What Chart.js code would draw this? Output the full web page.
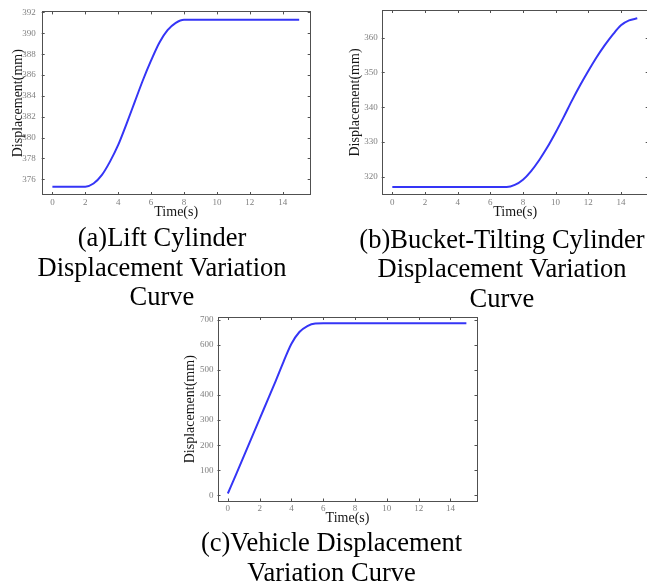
<!DOCTYPE html>
<html>
<head>
<meta charset="utf-8">
<script src="https://cdn.jsdelivr.net/npm/chart.js@4.4.1/dist/chart.umd.min.js"></script>
<style>
    html, body {
        margin: 0;
        padding: 0;
        width: 647px;
        height: 581px;
        overflow: hidden;
        background: #ffffff;
    }
    .plot {
        position: absolute;
    }
    .caption {
        position: absolute;
        transform: translateX(-50%);
        white-space: nowrap;
        text-align: center;
        font-family: "Liberation Serif", "Times New Roman", serif;
        font-size: 26.5px;
        line-height: 29.5px;
        color: #000;
        z-index: 2;
    }
</style>
</head>
<body>

<canvas id="chartLift" class="plot" width="322" height="225" style="left:0px;top:0px;"></canvas>
<canvas id="chartTilt" class="plot" width="320" height="225" style="left:335px;top:0px;"></canvas>
<canvas id="chartVehicle" class="plot" width="310" height="230" style="left:175px;top:300px;"></canvas>

<div class="caption" style="left:162px;top:223px;">(a)Lift Cylinder<br>Displacement Variation<br>Curve</div>
<div class="caption" style="left:502px;top:224.5px;">(b)Bucket-Tilting Cylinder<br>Displacement Variation<br>Curve</div>
<div class="caption" style="left:331.5px;top:528px;">(c)Vehicle Displacement<br>Variation Curve</div>

<script>
// --- data (time step 0.5 s) ---
const timeS = [0, 0.5, 1, 1.5, 2, 2.5, 3, 3.5, 4, 4.5, 5, 5.5, 6, 6.5, 7, 7.5,
    8, 8.5, 9, 9.5, 10, 10.5, 11, 11.5, 12, 12.5, 13, 13.5, 14, 14.5, 15];

const liftDisp = [375.3, 375.3, 375.3, 375.3, 375.3, 375.6, 376.4, 377.7, 379.3, 381.3,
    383.4, 385.5, 387.4, 389.1, 390.3, 391.0, 391.3, 391.3, 391.3, 391.3, 391.3,
    391.3, 391.3, 391.3, 391.3, 391.3, 391.3, 391.3, 391.3, 391.3, 391.3];

const tiltDisp = [317.0, 317.0, 317.0, 317.0, 317.0, 317.0, 317.0, 317.0, 317.0, 317.0,
    317.0, 317.0, 317.0, 317.0, 317.0, 317.6, 319.1, 321.6, 324.8, 328.5,
    332.7, 337.2, 341.9, 346.3, 350.4, 354.3, 357.8, 360.9, 363.6, 365.0, 365.6];

const vehicleDisp = [7, 80, 155, 230, 305, 380, 455, 533, 605, 652,
    676, 686, 687, 687, 687, 687, 687, 687, 687, 687,
    687, 687, 687, 687, 687, 687, 687, 687, 687, 687, 687];

const timeTicks = [0, 2, 4, 6, 8, 10, 12, 14];
const liftTicks = [376, 378, 380, 382, 384, 386, 388, 390, 392];
const tiltTicks = [320, 330, 340, 350, 360];
const vehicleTicks = [0, 100, 200, 300, 400, 500, 600, 700];

const SERIF = '"Liberation Serif", "Times New Roman", serif';
const LINE_COLOR = '#3535f6';

// MATLAB-style box: full frame with small inward ticks on all four sides
const boxPlugin = {
    id: 'matlabBox',
    afterDraw(chart) {
        const { ctx, chartArea: a, scales: { x, y } } = chart;
        const len = 3;
        ctx.save();
        ctx.strokeStyle = '#505050';
        ctx.lineWidth = 1;
        ctx.strokeRect(Math.round(a.left) + 0.5, Math.round(a.top) + 0.5,
            Math.round(a.width) - 1, Math.round(a.height) - 1);
        ctx.beginPath();
        x.ticks.forEach(t => {
            const px = Math.round(x.getPixelForValue(t.value)) + 0.5;
            ctx.moveTo(px, a.bottom);
            ctx.lineTo(px, a.bottom - len);
            ctx.moveTo(px, a.top);
            ctx.lineTo(px, a.top + len);
        });
        y.ticks.forEach(t => {
            const py = Math.round(y.getPixelForValue(t.value)) + 0.5;
            ctx.moveTo(a.left, py);
            ctx.lineTo(a.left + len, py);
            ctx.moveTo(a.right, py);
            ctx.lineTo(a.right - len, py);
        });
        ctx.stroke();
        ctx.restore();
    }
};

/**
 * Build one displacement/time plot
 * @param {string} canvasId - canvas element id
 * @param {Array} values - displacement series
 * @param {Array} yTicks - y tick values
 * @param {Object} geo - scale box sizes and ranges
 */
function makePlot(canvasId, values, yTicks, geo) {
    const canvas = document.getElementById(canvasId);
    return new Chart(canvas, {
        type: 'line',
        data: {
            datasets: [{
                data: timeS.map((t, i) => ({ x: t, y: values[i] })),
                borderColor: LINE_COLOR,
                borderWidth: 2,
                pointRadius: 0,
                cubicInterpolationMode: 'monotone',
                fill: false
            }]
        },
        options: {
            responsive: false,
            animation: false,
            events: [],
            layout: {
                padding: { top: geo.padTop, right: geo.padRight, left: 0, bottom: 0 }
            },
            plugins: {
                legend: { display: false },
                tooltip: { enabled: false }
            },
            scales: {
                x: {
                    type: 'linear',
                    min: -0.65,
                    max: 15.7,
                    afterBuildTicks: s => { s.ticks = timeTicks.map(v => ({ value: v })); },
                    afterFit: s => { s.height = geo.xHeight; },
                    grid: { display: false, drawTicks: false },
                    border: { display: false },
                    ticks: {
                        color: '#808080',
                        padding: 2,
                        maxRotation: 0,
                        font: { family: SERIF, size: 9 }
                    },
                    title: {
                        display: true,
                        text: 'Time(s)',
                        color: '#151515',
                        padding: { top: 0, bottom: geo.xTitlePad },
                        font: { family: SERIF, size: 14 }
                    }
                },
                y: {
                    type: 'linear',
                    min: geo.yMin,
                    max: geo.yMax,
                    afterBuildTicks: s => { s.ticks = yTicks.map(v => ({ value: v })); },
                    afterFit: s => { s.width = geo.yWidth; },
                    grid: { display: false, drawTicks: false },
                    border: { display: false },
                    ticks: {
                        color: '#808080',
                        padding: geo.yTickPad,
                        font: { family: SERIF, size: 9 }
                    },
                    title: {
                        display: true,
                        text: 'Displacement(mm)',
                        color: '#151515',
                        padding: { top: geo.yTitlePad, bottom: 0 },
                        font: { family: SERIF, size: 14 }
                    }
                }
            }
        },
        plugins: [boxPlugin]
    });
}

makePlot('chartLift', liftDisp, liftTicks, {
    padTop: 10, padRight: 11.3, xHeight: 30, yWidth: 41.7,
    yMin: 374.5, yMax: 392.1, xTitlePad: 4.6, yTitlePad: 9.6, yTickPad: 6
});

makePlot('chartTilt', tiltDisp, tiltTicks, {
    padTop: 10, padRight: 6.3, xHeight: 30, yWidth: 46.7,
    yMin: 314.7, yMax: 368, xTitlePad: 4.6, yTitlePad: 11.6, yTickPad: 4
});

makePlot('chartVehicle', vehicleDisp, vehicleTicks, {
    padTop: 17, padRight: 7.5, xHeight: 28.5, yWidth: 42.5,
    yMin: -25, yMax: 712, xTitlePad: 3.1, yTitlePad: 6.6, yTickPad: 4
});
</script>
</body>
</html>
